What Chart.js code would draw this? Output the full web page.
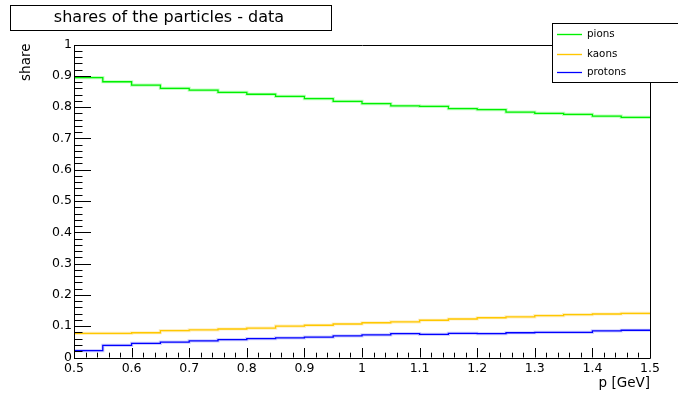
<!DOCTYPE html>
<html>
<head>
<meta charset="utf-8">
<script src="https://cdn.jsdelivr.net/npm/chart.js@4/dist/chart.umd.min.js"></script>
<style>
  html, body { margin: 0; padding: 0; background: #fff; }
  #wrap { width: 678px; height: 393px; }
</style>
</head>
<body>
<div id="wrap"><canvas id="c" width="678" height="393"></canvas></div>
<script>
// Momentum bins (low edges, width 0.05 GeV) and the upper edge of the last bin
const binLow = [0.50, 0.55, 0.60, 0.65, 0.70, 0.75, 0.80, 0.85, 0.90, 0.95,
                1.00, 1.05, 1.10, 1.15, 1.20, 1.25, 1.30, 1.35, 1.40, 1.45];
const binHigh = 1.50;

// Particle shares per bin
const pions   = [0.894, 0.881, 0.870, 0.860, 0.854, 0.847, 0.841, 0.834, 0.827, 0.818,
                 0.811, 0.804, 0.802, 0.795, 0.792, 0.784, 0.780, 0.777, 0.771, 0.767];
const kaons   = [0.077, 0.077, 0.079, 0.086, 0.088, 0.091, 0.094, 0.100, 0.103, 0.107,
                 0.111, 0.114, 0.119, 0.123, 0.127, 0.130, 0.134, 0.137, 0.139, 0.141];
const protons = [0.022, 0.039, 0.045, 0.049, 0.053, 0.057, 0.060, 0.063, 0.065, 0.069,
                 0.072, 0.076, 0.074, 0.077, 0.076, 0.079, 0.080, 0.080, 0.085, 0.087];

const seriesNames = ['pions', 'kaons', 'protons'];
const yTicks = [0, 0.1, 0.2, 0.3, 0.4, 0.5, 0.6, 0.7, 0.8, 0.9, 1];
const xTicks = [0.5, 0.6, 0.7, 0.8, 0.9, 1, 1.1, 1.2, 1.3, 1.4, 1.5];

const FONT = 'DejaVu Sans';

// histogram as step points: one point per bin low edge plus the closing edge
function histPoints(vals) {
  const pts = binLow.map((x, i) => ({ x: x, y: vals[i] }));
  pts.push({ x: binHigh, y: vals[vals.length - 1] });
  return pts;
}

// short numeric labels: 0, 0.1, ..., 1
function shortLabel(v) { return String(+Number(v).toFixed(1)); }

const styles = [
  { core: '#00f000', halo: 'rgba(110,255,110,0.45)' },
  { core: '#ffc800', halo: 'rgba(255,215,100,0.40)' },
  { core: '#0000ff', halo: 'rgba(120,120,255,0.35)' }
];
const allValues = [pions, kaons, protons];

const datasets = [];
allValues.forEach((vals, k) => {
  datasets.push({
    label: seriesNames[k] + ' band',
    data: histPoints(vals),
    borderColor: styles[k].halo,
    borderWidth: 3.2,
    stepped: true,
    pointRadius: 0,
    order: 2,
    isBand: true
  });
  datasets.push({
    label: seriesNames[k],
    data: histPoints(vals),
    borderColor: styles[k].core,
    borderWidth: 1.3,
    stepped: true,
    pointRadius: 0,
    order: 1
  });
});

// frame, minor/major ticks, axis titles, title box and legend box
const rootDecor = {
  id: 'rootDecor',
  afterDatasetsDraw(chart) {
    const ctx = chart.ctx;
    const a = chart.chartArea;
    const xs = chart.scales.x, ys = chart.scales.y;
    ctx.save();
    ctx.strokeStyle = '#000';
    ctx.lineWidth = 1;
    ctx.beginPath();
    ctx.rect(Math.round(a.left) + 0.5, Math.round(a.top) + 0.5,
             Math.round(a.right - a.left), Math.round(a.bottom - a.top));
    ctx.stroke();

    // y ticks every 0.02, major every 0.1
    ctx.beginPath();
    for (let i = 0; i <= 50; i++) {
      const v = i * 0.02;
      const y = Math.round(ys.getPixelForValue(v)) + 0.5;
      const len = (i % 5 === 0) ? 17 : 8.5;
      ctx.moveTo(a.left, y);
      ctx.lineTo(a.left + len, y);
    }
    // x ticks every 0.02, major every 0.1
    for (let i = 0; i <= 50; i++) {
      const v = 0.5 + i * 0.02;
      const x = Math.round(xs.getPixelForValue(v)) + 0.5;
      const len = (i % 5 === 0) ? 9.5 : 4.8;
      ctx.moveTo(x, a.bottom);
      ctx.lineTo(x, a.bottom - len);
    }
    ctx.stroke();

    // axis titles
    ctx.fillStyle = '#000';
    ctx.font = '13.5px "' + FONT + '"';
    ctx.textAlign = 'right';
    ctx.textBaseline = 'middle';
    ctx.fillText('p [GeV]', a.right, 383);
    ctx.save();
    ctx.translate(26, a.top - 1);
    ctx.rotate(-Math.PI / 2);
    ctx.fillText('share', 0, 0);
    ctx.restore();
    ctx.restore();
  },
  afterDraw(chart) {
    const ctx = chart.ctx;
    ctx.save();
    // title box
    ctx.fillStyle = '#fff';
    ctx.fillRect(10, 5, 321, 25);
    ctx.strokeStyle = '#000';
    ctx.lineWidth = 1;
    ctx.strokeRect(10.5, 5.5, 321, 25);
    ctx.fillStyle = '#000';
    ctx.font = '16px "' + FONT + '"';
    ctx.textAlign = 'center';
    ctx.textBaseline = 'middle';
    ctx.fillText('shares of the particles - data', 169, 18);

    // legend box
    ctx.fillStyle = '#fff';
    ctx.fillRect(552, 23, 130, 59);
    ctx.strokeStyle = '#000';
    ctx.strokeRect(552.5, 23.5, 130, 59);
    const rows = [34, 54, 72];
    ctx.font = '10.3px "' + FONT + '"';
    ctx.textAlign = 'left';
    const cores = chart.data.datasets.filter(d => !d.isBand);
    cores.forEach((d, k) => {
      ctx.strokeStyle = styles[k].halo;
      ctx.lineWidth = 2.5;
      ctx.beginPath();
      ctx.moveTo(557, rows[k] + 0.5);
      ctx.lineTo(582, rows[k] + 0.5);
      ctx.stroke();
      ctx.strokeStyle = d.borderColor;
      ctx.lineWidth = 1;
      ctx.beginPath();
      ctx.moveTo(557, rows[k] + 0.5);
      ctx.lineTo(582, rows[k] + 0.5);
      ctx.stroke();
      ctx.fillStyle = '#000';
      ctx.fillText(d.label, 587, rows[k]);
    });
    ctx.restore();
  }
};

new Chart(document.getElementById('c'), {
  type: 'line',
  data: { datasets: datasets },
  options: {
    responsive: false,
    animation: false,
    devicePixelRatio: 1,
    layout: { padding: { left: 0, right: 28, top: 44.5, bottom: 0 } },
    plugins: { legend: { display: false }, tooltip: { enabled: false }, title: { display: false } },
    scales: {
      x: {
        type: 'linear', min: 0.5, max: 1.5,
        afterFit(s) { s.height = 35.5; },
        afterBuildTicks(s) { s.ticks = xTicks.map(v => ({ value: v })); },
        grid: { display: false, drawTicks: false },
        border: { display: false },
        ticks: { padding: 4, color: '#000', font: { family: FONT, size: 12.5 }, maxRotation: 0, autoSkip: false,
                 callback: v => shortLabel(v) }
      },
      y: {
        type: 'linear', min: 0, max: 1,
        afterFit(s) { s.width = 74; },
        afterBuildTicks(s) { s.ticks = yTicks.map(v => ({ value: v })); },
        grid: { display: false, drawTicks: false },
        border: { display: false },
        ticks: { padding: 2, color: '#000', font: { family: FONT, size: 12.5 }, autoSkip: false,
                 callback: v => shortLabel(v) }
      }
    }
  },
  plugins: [rootDecor]
});
</script>
</body>
</html>
